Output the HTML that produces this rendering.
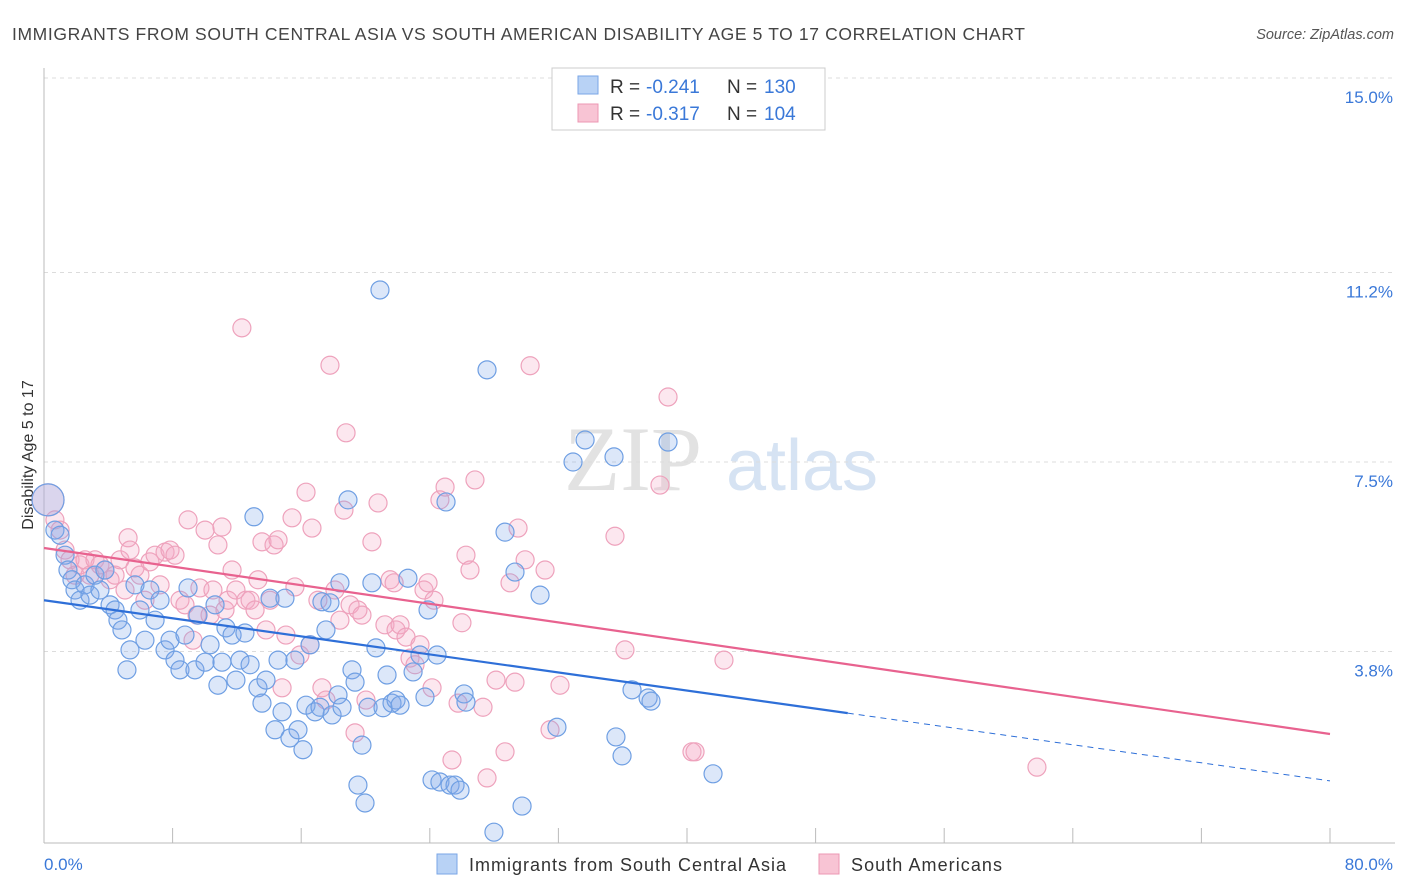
<!DOCTYPE html>
<html><head><meta charset="utf-8">
<style>
body{margin:0;background:#fff;font-family:"Liberation Sans",sans-serif;}
#wrap{position:relative;width:1406px;height:892px;overflow:hidden;}
</style></head>
<body>
<div id="wrap">
<svg id="svg" width="1406" height="892" xmlns="http://www.w3.org/2000/svg">
<text x="12" y="40" font-size="17.5" fill="#444" textLength="1013" lengthAdjust="spacing">IMMIGRANTS FROM SOUTH CENTRAL ASIA VS SOUTH AMERICAN DISABILITY AGE 5 TO 17 CORRELATION CHART</text>
<text x="1394" y="39" font-size="14.5" fill="#555" font-style="italic" text-anchor="end">Source: ZipAtlas.com</text>
<text transform="translate(33,455) rotate(-90)" font-size="16" fill="#333" text-anchor="middle">Disability Age 5 to 17</text>
<g>
<text x="633" y="490" font-size="92" fill="#e2e2e2" font-family="Liberation Serif,serif" text-anchor="middle">ZIP</text>
<text x="802" y="490" font-size="72" fill="#d6e3f3" text-anchor="middle">atlas</text>
</g>
<g id="grid"></g>
<g id="axes"></g>
<g id="pts"></g>
<g id="lines"></g>
<g>
<rect x="552" y="68" width="273" height="62" fill="#fff" stroke="#ccc"/>
<rect x="578" y="76" width="20" height="18" fill="#b8d2f5" stroke="#7aa6e6"/>
<g font-size="19" fill="#333">
<text x="610" y="93">R =</text><text x="646" y="93" fill="#3a78d8">-0.241</text><text x="727" y="93">N =</text><text x="764" y="93" fill="#3a78d8">130</text>
</g>
<rect x="578" y="104" width="20" height="18" fill="#f8c4d4" stroke="#ec97b3"/>
<g font-size="19" fill="#333">
<text x="610" y="120">R =</text><text x="646" y="120" fill="#3a78d8">-0.317</text><text x="727" y="120">N =</text><text x="764" y="120" fill="#3a78d8">104</text>
</g>
</g>
<g>
<rect x="437" y="854" width="20" height="20" fill="#b8d2f5" stroke="#7aa6e6"/>
<text x="469" y="871" font-size="18" fill="#333" textLength="317" lengthAdjust="spacing">Immigrants from South Central Asia</text>
<rect x="819" y="854" width="20" height="20" fill="#f8c4d4" stroke="#ec97b3"/>
<text x="851" y="871" font-size="18" fill="#333" textLength="151" lengthAdjust="spacing">South Americans</text>
</g>
</svg>
</div>
<script>
const yTicks=[3.8,7.5,11.2,15.0];
const yTickLabels=["3.8%","7.5%","11.2%","15.0%"];
const xTicks=[0,8,16,24,32,40,48,56,64,72,80];
const blueX=[0.25,0.68,1.0,1.31,1.49,1.74,1.93,2.24,2.55,2.86,3.17,3.48,3.79,4.11,4.42,4.6,4.85,5.16,5.35,5.66,5.97,6.28,6.59,6.91,7.22,7.53,7.84,8.15,8.46,8.77,8.96,9.39,9.58,10.02,10.33,10.64,10.82,11.07,11.32,11.7,11.94,12.19,12.5,12.82,13.06,13.31,13.56,13.81,14.06,14.37,14.56,14.81,14.99,15.3,15.61,15.8,16.11,16.3,16.55,16.86,17.17,17.29,17.54,17.79,17.92,18.29,18.41,18.54,18.91,19.16,19.35,19.53,19.78,19.97,20.16,20.4,20.65,20.9,21.09,21.34,21.65,21.9,22.15,22.64,22.96,23.39,23.7,23.89,24.14,24.45,24.63,25.01,25.26,25.57,25.88,26.13,26.25,27.56,27.99,28.68,29.3,29.74,30.86,31.91,32.91,33.66,35.46,35.58,35.96,36.58,37.58,37.76,38.82,41.62];
const blueY=[6.76,6.17,6.07,5.68,5.39,5.2,5.0,4.8,5.1,4.9,5.29,5.0,5.39,4.71,4.61,4.41,4.22,3.44,3.83,5.1,4.61,4.02,5.0,4.41,4.8,3.83,4.02,3.63,3.44,4.12,5.04,3.44,4.51,3.59,3.93,4.71,3.14,3.59,4.26,4.12,3.24,3.63,4.16,3.54,6.43,3.09,2.79,3.24,4.84,2.27,3.63,2.62,4.84,2.11,3.63,2.27,1.88,2.75,3.93,2.62,2.71,4.77,4.22,4.75,2.56,2.95,5.14,2.71,6.76,3.44,3.2,1.19,1.97,0.84,2.71,5.14,3.87,10.86,2.7,3.34,2.79,2.85,2.75,5.23,3.4,3.73,2.91,4.61,1.29,3.73,1.25,6.72,1.19,1.19,1.09,2.97,2.81,9.3,0.27,6.13,5.35,0.78,4.9,2.32,7.5,7.93,7.6,2.13,1.76,3.05,2.89,2.83,7.89,1.41];
const pinkX=[0.25,0.68,1.0,1.31,1.62,1.93,2.24,2.55,2.86,3.17,3.48,3.79,4.11,4.42,4.73,5.04,5.23,5.35,5.66,5.97,6.28,6.59,6.91,7.22,7.53,7.84,8.15,8.46,8.77,8.96,9.27,9.52,9.7,10.02,10.33,10.51,10.82,11.07,11.26,11.45,11.7,11.94,12.31,12.56,12.82,13.13,13.31,13.56,13.81,14.06,14.31,14.56,14.81,15.05,15.43,15.61,15.92,16.3,16.55,16.67,17.04,17.29,17.54,17.79,18.1,18.41,18.66,18.79,19.04,19.35,19.53,19.78,20.03,20.4,20.78,21.21,21.53,21.78,21.9,22.15,22.52,22.77,23.08,23.39,23.64,23.89,24.14,24.26,24.63,24.95,25.38,25.76,26.0,26.25,26.5,26.81,27.31,27.56,28.12,28.68,28.99,29.3,29.49,29.93,30.24,31.17,31.48,32.1,35.52,36.14,38.32,38.82,40.31,40.5,42.3,61.77];
const pinkY=[6.76,6.37,6.17,5.78,5.59,5.29,5.49,5.59,5.29,5.59,5.49,5.39,5.2,5.29,5.59,5.0,6.02,5.78,5.43,5.29,4.8,5.55,5.68,5.1,5.74,5.78,5.68,4.8,4.71,6.37,4.02,4.51,5.04,6.17,4.51,5.0,5.88,6.23,4.61,4.8,5.39,5.0,10.12,4.8,4.8,4.61,5.2,5.94,4.22,4.8,5.88,5.98,3.09,4.12,6.41,5.06,3.73,6.91,3.93,6.21,4.8,3.09,2.85,9.39,5.0,4.41,6.56,8.07,4.71,2.21,4.61,4.51,2.85,5.94,6.7,4.32,5.2,5.14,4.22,4.32,4.08,3.67,3.54,3.93,5.0,5.14,3.09,4.8,6.76,7.01,1.68,2.79,4.36,5.68,5.39,7.15,2.71,1.33,3.24,1.84,5.14,3.2,6.21,5.59,9.38,5.39,2.27,3.14,6.05,3.83,7.05,8.77,1.84,1.84,3.63,1.54];
const blueTrend=[4.8,-0.0441];   // intercept, slope
const pinkTrend=[5.82,-0.0454];
const blueSolidEnd=50;

const X0=44,X1=1330,YB=846,YT=78;
const sx=v=>X0+(v/80)*(X1-X0);
const sy=v=>YB-(v/15)*(YB-YT);
const NS="http://www.w3.org/2000/svg";
function mk(tag,attrs,parent){const e=document.createElementNS(NS,tag);for(const k in attrs)e.setAttribute(k,attrs[k]);parent.appendChild(e);return e;}
const grid=document.getElementById('grid'),axes=document.getElementById('axes'),pts=document.getElementById('pts'),lines=document.getElementById('lines');
yTicks.forEach((t,i)=>{
  const l=mk('line',{x1:X0,x2:1395,y1:sy(t),y2:sy(t),stroke:'#dcdcdc','stroke-dasharray':'4,4'},grid);
  
  
  const tx=mk('text',{x:1393,y:sy(t)+25,'font-size':17,fill:'#3a78d8','text-anchor':'end'},axes);
  tx.textContent=yTickLabels[i];
  
  
});
const ya=mk('line',{x1:X0,x2:X0,y1:68,y2:843,stroke:'#bbb'},axes);


const xa=mk('line',{x1:X0,x2:1395,y1:843,y2:843,stroke:'#bbb'},axes);


xTicks.forEach(t=>{
  const l=mk('line',{x1:sx(t),x2:sx(t),y1:828,y2:843,stroke:'#bbb'},axes);
  
  
});
const xl0=mk('text',{x:44,y:870,'font-size':17,fill:'#3a78d8'},axes);xl0.textContent='0.0%';


const xl1=mk('text',{x:1393,y:870,'font-size':17,fill:'#3a78d8','text-anchor':'end'},axes);xl1.textContent='80.0%';



function dots(xs,ys,fill,stroke,name){
  xs.forEach((x,i)=>{
    const r=i===0?16:9;
    const c=mk('circle',{cx:sx(x),cy:sy(ys[i]),r:r,fill:fill,stroke:stroke,'stroke-width':1.2},pts);
    
    
  });
}
dots(pinkX,pinkY,'rgba(246,170,196,0.28)','#eea2bc','pink-point');
dots(blueX,blueY,'rgba(130,170,235,0.28)','#6f9fe3','blue-point');

const bl=mk('line',{x1:sx(0),y1:sy(blueTrend[0]),x2:sx(blueSolidEnd),y2:sy(blueTrend[0]+blueTrend[1]*blueSolidEnd),stroke:'#2e6fd8','stroke-width':2.2},lines);


const bd=mk('line',{x1:sx(blueSolidEnd),y1:sy(blueTrend[0]+blueTrend[1]*blueSolidEnd),x2:sx(80),y2:sy(blueTrend[0]+blueTrend[1]*80),stroke:'#2e6fd8','stroke-width':1,'stroke-dasharray':'6,5'},lines);


const pl=mk('line',{x1:sx(0),y1:sy(pinkTrend[0]),x2:sx(80),y2:sy(pinkTrend[0]+pinkTrend[1]*80),stroke:'#e8628f','stroke-width':2.2},lines);


</script>
</body></html>
